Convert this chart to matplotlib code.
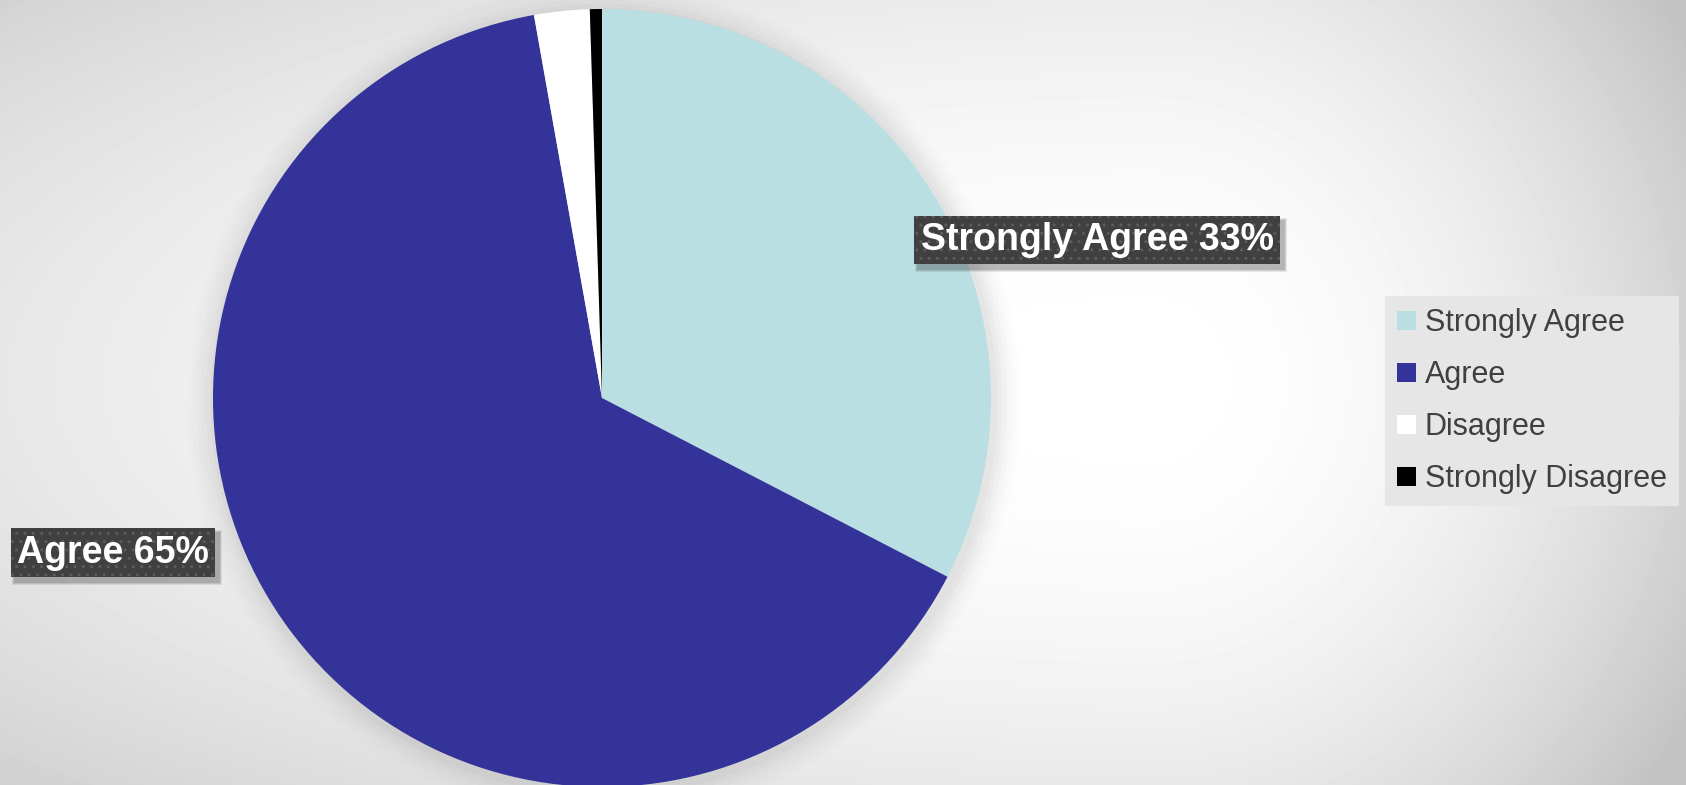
import numpy as np
import matplotlib.pyplot as plt
from matplotlib.patches import Rectangle
from matplotlib.transforms import IdentityTransform

# ------------------------------------------------------------
# data
# ------------------------------------------------------------
categories = ["Strongly Agree", "Agree", "Disagree", "Strongly Disagree"]
shares = [32.6, 64.6, 2.3, 0.5]
label_texts = ["Strongly Agree 33%", "Agree 65%"]
colors = ["#b9dfe2", "#333399", "#ffffff", "#000000"]

plt.rcParams["font.family"] = ["Liberation Sans", "DejaVu Sans"]

W, H = 1686, 785
fig = plt.figure(figsize=(W / 100, H / 100), dpi=100)

# ------------------------------------------------------------
# background: soft off-centre radial gradient
# ------------------------------------------------------------
bg = fig.add_axes([0, 0, 1, 1])
yy, xx = np.mgrid[0:H, 0:W]
dx = xx - 1150.0
sx = np.where(dx < 0, 1100.0, 380.0)
dy = (yy - 380.0) / 400.0
r2 = (dx / sx) ** 2 + dy ** 2
v = np.clip(255 - 22 * r2, 196, 255) / 255.0
bg.imshow(v, cmap="gray", vmin=0, vmax=1, extent=[0, W, H, 0], aspect="auto")
bg.set_axis_off()

# ------------------------------------------------------------
# pie
# ------------------------------------------------------------
cx, cy, rad = 602, 398, 389
ax = fig.add_axes([(cx - rad) / W, (H - cy - rad) / H, 2 * rad / W, 2 * rad / H])

wedges, _ = ax.pie(shares, colors=colors, startangle=90, counterclock=False,
                   radius=1.0, wedgeprops=dict(linewidth=0))
ax.set_xlim(-1, 1)
ax.set_ylim(-1, 1)
ax.set_axis_off()
for w in wedges:
    w.set_zorder(2)

# faint glow round the pie
for i, a in enumerate(np.linspace(0.05, 0.01, 6)):
    ax.add_patch(plt.Circle((0.005, -0.01), 1.0 + 0.012 * (i + 1), color="#808080",
                            alpha=a, lw=0, zorder=0, clip_on=False))

# data labels, dark dotted box
label_pos = [(1.273, 0.406), (-1.257, -0.398)]
label_objs = []
for txt, (lx, ly) in zip(label_texts, label_pos):
    t = ax.text(lx, ly, txt, ha="center", va="center", fontsize=27, fontweight="bold",
                color="white", zorder=5,
                bbox=dict(boxstyle="square,pad=0.17", fc="#404040", ec="#5c5c5c",
                          lw=0, hatch=".."))
    label_objs.append(t)

# ------------------------------------------------------------
# legend
# ------------------------------------------------------------
leg = fig.legend(wedges, categories, loc="upper left",
                 bbox_to_anchor=(1385 / W, 1 - 296 / H), borderaxespad=0,
                 fontsize=22, frameon=True, fancybox=False, framealpha=1,
                 facecolor="#e6e6e6", edgecolor="none", handlelength=0.6,
                 handleheight=0.6, handletextpad=0.3, labelspacing=0.72,
                 borderpad=0.4)
for t in leg.get_texts():
    t.set_color("#404040")
for h in leg.legend_handles:
    h.set_linewidth(0)

# soft drop shadows under the label boxes (need the drawn box size first)
fig.canvas.draw()
for t in label_objs:
    bb = t.get_bbox_patch().get_window_extent()
    for k, al in enumerate([0.10, 0.12, 0.16]):
        grow = 3 - k
        ax.add_artist(Rectangle((bb.x0 + 4 - grow, bb.y0 - 5 - grow),
                                bb.width + 2 * grow, bb.height + 2 * grow,
                                transform=IdentityTransform(), fc="#303030",
                                ec="none", alpha=al, zorder=4, clip_on=False))

fig.savefig("out.png", dpi=100)
